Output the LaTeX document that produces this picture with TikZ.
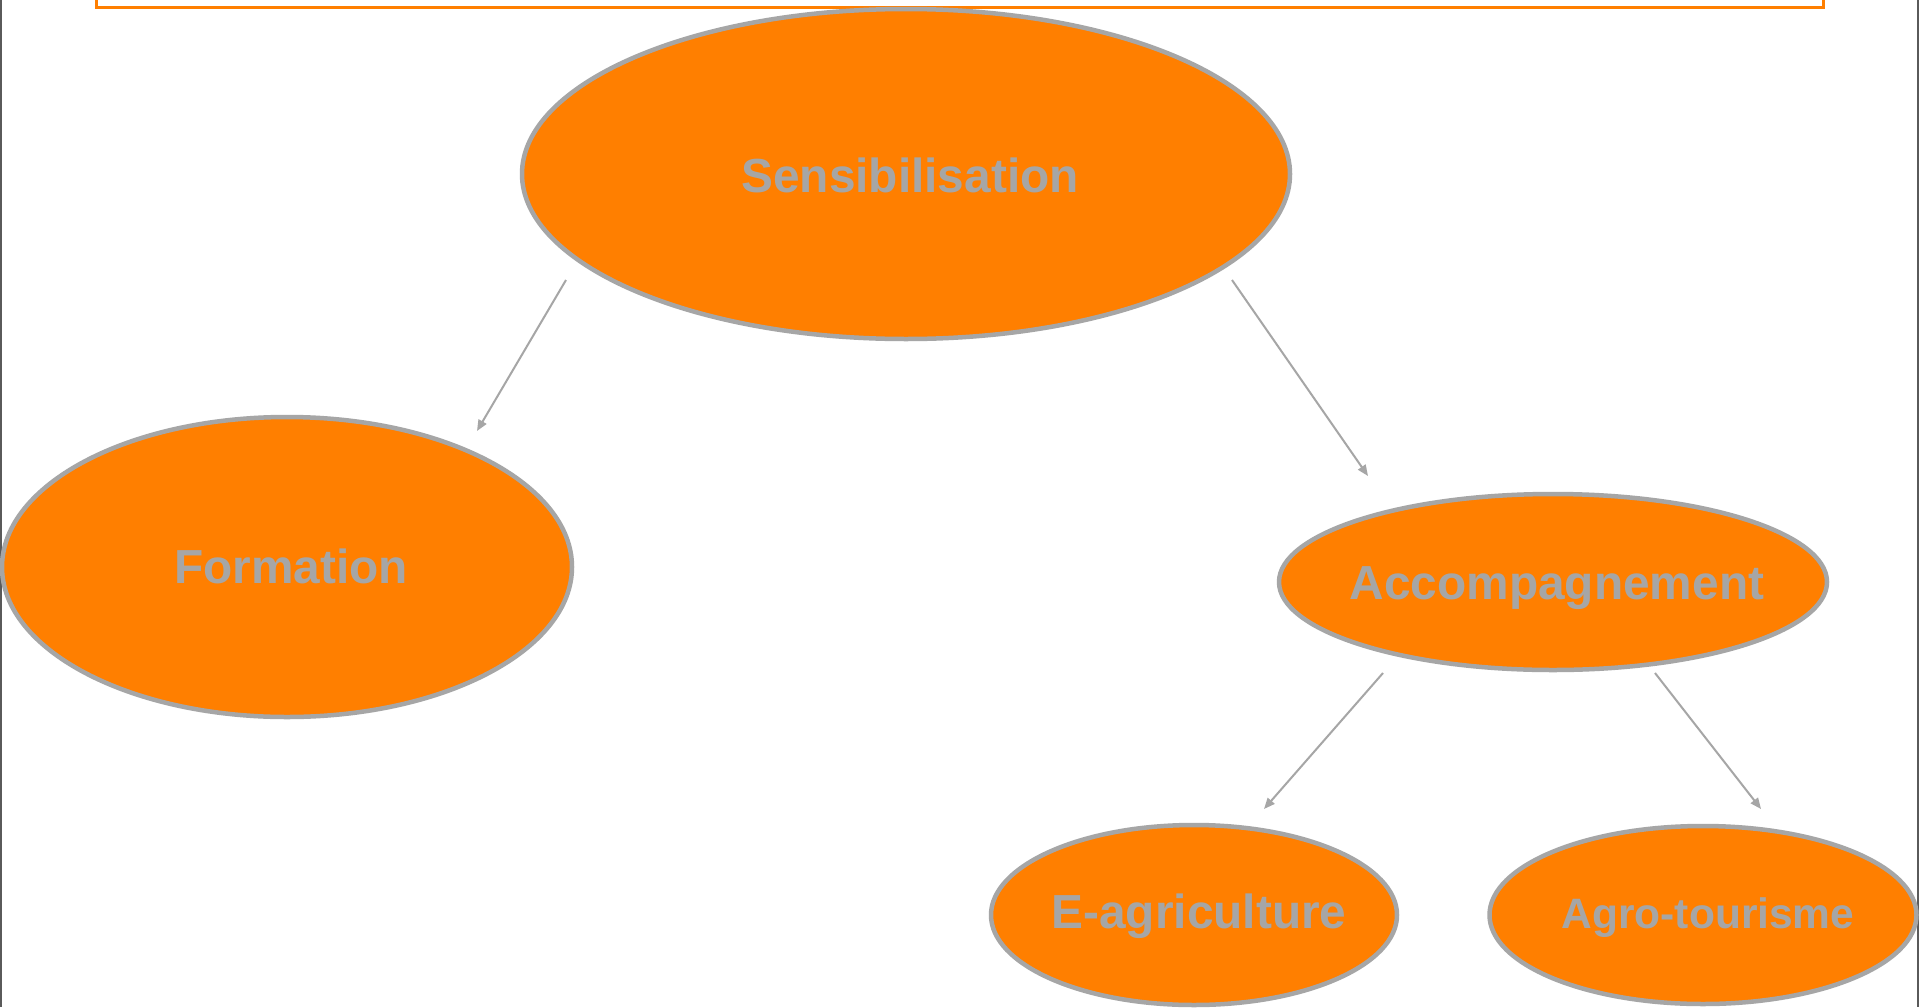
\documentclass[tikz,border=0pt]{standalone}
\usepackage{fontspec}
\setmainfont{Liberation Sans}
\usetikzlibrary{shapes.geometric,arrows.meta}
\definecolor{orng}{HTML}{FF7F00}
\definecolor{edgegray}{HTML}{A6A6A6}
\definecolor{framegray}{HTML}{5A5A5A}
\begin{document}
\begin{tikzpicture}[x=1pt,y=-1pt,
  blob/.style={ellipse, draw=edgegray, fill=orng, line width=4.5pt, inner sep=0pt},
  lbl/.style={anchor=base, text=edgegray, font=\bfseries\fontsize{47.8}{50}\selectfont, inner sep=0pt},
  lblsmall/.style={lbl, font=\bfseries\fontsize{42.5}{45}\selectfont},
  conn/.style={draw=edgegray, line width=2pt, -{Triangle[length=11pt,width=9pt]}}
]
\useasboundingbox (0,0) rectangle (1920,1007);
\fill[white] (0,0) rectangle (1920,1007);
% frame
\draw[orng, line width=3pt] (96,-10) rectangle (1823,7.5);
\draw[framegray, line width=2.5pt] (1,0) -- (1,1007);
\draw[framegray, line width=2.5pt] (1918,0) -- (1918,1007);
% ellipses
\node[blob, minimum width=768pt, minimum height=330pt] (S) at (906,174) {};
\node[blob, minimum width=570pt, minimum height=300pt] (F) at (287,567) {};
\node[blob, minimum width=548pt, minimum height=176pt] (A) at (1553,582) {};
\node[blob, minimum width=406pt, minimum height=180pt] (E) at (1194,915) {};
\node[blob, minimum width=427pt, minimum height=178pt] (G) at (1703,915) {};
% labels
\node[lbl] (St) at (910,192) {Sensibilisation};
\node[lbl] (Ft) at (291,583) {Formation};
\node[lbl] (At) at (1557,599) {Accompagnement};
\node[lbl] (Et) at (1199,928) {E-agriculture};
\node[lblsmall] (Gt) at (1708,928) {Agro-tourisme};
% connector ends
\coordinate (s1) at (566,280);
\coordinate (f1) at (477,431);
\coordinate (s2) at (1232,280);
\coordinate (a1) at (1368,476);
\coordinate (a2) at (1383,673);
\coordinate (e1) at (1264,809);
\coordinate (a3) at (1655,673);
\coordinate (g1) at (1761,809);
\draw[conn] (s1) -- (f1);
\draw[conn] (s2) -- (a1);
\draw[conn] (a2) -- (e1);
\draw[conn] (a3) -- (g1);
\end{tikzpicture}
\end{document}
